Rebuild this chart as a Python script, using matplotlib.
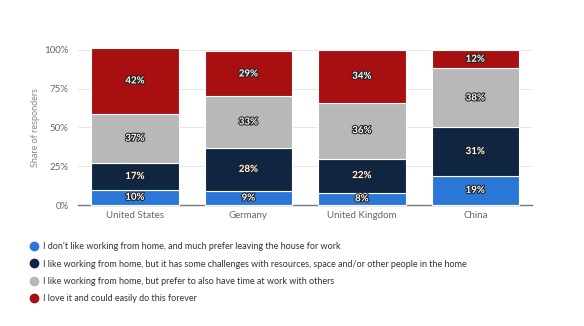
import matplotlib.pyplot as plt
import matplotlib.patheffects as pe
from matplotlib.lines import Line2D
import numpy as np

plt.rcParams['font.family'] = ['Lato', 'DejaVu Sans']

countries = ['United States', 'Germany', 'United Kingdom', 'China']

# segment heights as drawn (bottom to top)
dislike = [10, 9, 8, 19]
challenges = [17, 28, 22, 31]
prefer_both = [32, 33, 36, 38]
love_it = [42, 29, 34, 12]

# labels printed on the bars
dislike_lbl = ['10%', '9%', '8%', '19%']
challenges_lbl = ['17%', '28%', '22%', '31%']
prefer_both_lbl = ['37%', '33%', '36%', '38%']
love_it_lbl = ['42%', '29%', '34%', '12%']

series_names = [
    "I don't like working from home, and much prefer leaving the house for work",
    'I like working from home, but it has some challenges with resources, space and/or other people in the home',
    'I like working from home, but prefer to also have time at work with others',
    'I love it and could easily do this forever',
]
colors = ['#2a77d8', '#10253f', '#b8b8b8', '#a70f10']

fig = plt.figure(figsize=(5.84, 3.26), dpi=100)
ax = fig.add_axes([0.134, 0.371, 0.777, 0.476])

x = np.arange(len(countries))
bottom = np.zeros(len(countries))
all_vals = [dislike, challenges, prefer_both, love_it]
all_lbls = [dislike_lbl, challenges_lbl, prefer_both_lbl, love_it_lbl]
for vals, lbls, c in zip(all_vals, all_lbls, colors):
    vals = np.array(vals)
    ax.bar(x, vals, 0.77, bottom=bottom, color=c, edgecolor='white',
           linewidth=0.8, zorder=3, clip_on=False)
    for xi, b, v, t in zip(x, bottom, vals, lbls):
        ax.text(xi, b + v / 2, t, ha='center', va='center', fontsize=7,
                fontweight='bold', color='white', zorder=4,
                path_effects=[pe.withStroke(linewidth=1.5, foreground='#222222')])
    bottom += vals

ax.set_xlim(-0.5, 3.5)
ax.set_ylim(0, 100)
ax.set_yticks([0, 25, 50, 75, 100])
ax.set_yticklabels(['0%', '25%', '50%', '75%', '100%'])
ax.set_xticks(x)
ax.set_xticklabels(countries)
ax.tick_params(axis='both', length=0, labelsize=7, labelcolor='#666666')
ax.tick_params(axis='y', pad=7)
ax.tick_params(axis='x', pad=4)
ax.grid(axis='y', color='#e6e6e6', linewidth=0.7, zorder=0)
for s in ['top', 'right', 'left']:
    ax.spines[s].set_visible(False)
ax.spines['bottom'].set_color('#777777')
ax.spines['bottom'].set_linewidth(1.0)
ax.set_ylabel('Share of responders', fontsize=6.5, color='#888888', labelpad=3)

handles = [Line2D([], [], marker='o', linestyle='', markersize=6,
                  markerfacecolor=c, markeredgecolor=c) for c in colors]
fig.legend(handles, series_names, loc='upper left', bbox_to_anchor=(0.045, 0.268),
           frameon=False, fontsize=6.5, labelcolor='#333333', handletextpad=0.4,
           labelspacing=0.92, handlelength=1.0, borderaxespad=0)

fig.savefig('out.png', dpi=100)
